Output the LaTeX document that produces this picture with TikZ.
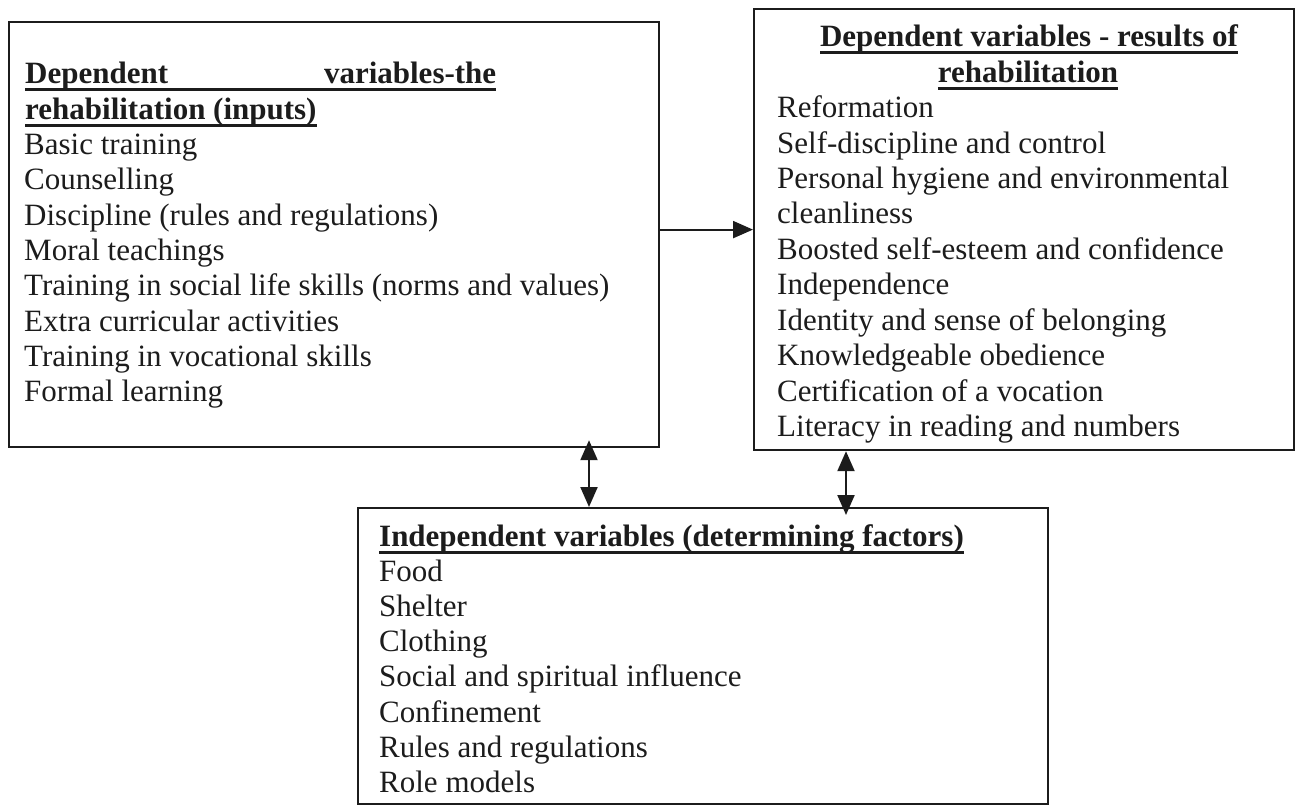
\documentclass[tikz,border=0pt]{standalone}
\usepackage{fontspec}
\setmainfont{Liberation Serif}
\usetikzlibrary{arrows.meta,calc}
\definecolor{ink}{HTML}{1C1C1C}
\newcommand\ulbox[1]{\setbox0\hbox{#1}\rlap{\rule[-7.5pt]{\wd0}{3pt}}\box0}
\begin{document}
\begin{tikzpicture}[x=1pt,y=-1pt,
  box/.style={draw=ink, line width=2.2pt, inner sep=0pt, anchor=north west},
  txt/.style={anchor=base west, inner sep=0pt, text=ink, font=\fontsize{31}{35}\selectfont},
  hd/.style={txt, font=\fontsize{31}{35}\selectfont\bfseries},
  arr/.style={line width=2.2pt, draw=ink, -{Triangle[length=20pt,width=17pt]}},
  dblarr/.style={line width=2.2pt, draw=ink, {Triangle[length=20pt,width=17pt]}-{Triangle[length=20pt,width=17pt]}}]
\useasboundingbox (0,0) rectangle (1298,805);
% boxes
\node[box, minimum width=650pt, minimum height=425pt] (L) at (8,21) {};
\node[box, minimum width=540pt, minimum height=441pt] (R) at (753,8) {};
\node[box, minimum width=690pt, minimum height=296pt] (B) at (357,507) {};
% left box text
\node[hd] (l0) at (25,84) {\ulbox{\hbox to 471pt{Dependent\hfill variables-the}}};
\node[hd] (l1) at (25,119.3) {\ulbox{rehabilitation (inputs)}};
\foreach \t [count=\i from 2] in {Basic training, Counselling, Discipline (rules and regulations), Moral teachings, Training in social life skills (norms and values), Extra curricular activities, Training in vocational skills, Formal learning}
  \node[txt] (l\i) at (24,84+35.3*\i) {\t};
% right box text
\node[hd, anchor=base] (r0) at (1029,47) {\ulbox{Dependent variables - results of}};
\node[hd, anchor=base] (r1) at (1028,82.4) {\ulbox{rehabilitation}};
\foreach \t [count=\i from 2] in {Reformation, Self-discipline and control, Personal hygiene and environmental, cleanliness, Boosted self-esteem and confidence, Independence, Identity and sense of belonging, Knowledgeable obedience, Certification of a vocation, Literacy in reading and numbers}
  \node[txt] (r\i) at (777,47+35.4*\i) {\t};
% bottom box text
\node[hd] (b0) at (379,546) {\ulbox{Independent variables (determining factors)}};
\foreach \t [count=\i from 1] in {Food, Shelter, Clothing, Social and spiritual influence, Confinement, Rules and regulations, Role models}
  \node[txt] (b\i) at (379,546+35.2*\i) {\t};
% connectors
\coordinate (a1) at (589,0);
\coordinate (a2) at (846,0);
\draw[arr] (R.west -| L.east) -- (R.west);
\draw[dblarr] ($(L.south -| a1)+(0,-8)$) -- (B.north -| a1);
\draw[dblarr] (R.south -| a2) -- ($(B.north -| a2)+(0,8)$);
\end{tikzpicture}
\end{document}
